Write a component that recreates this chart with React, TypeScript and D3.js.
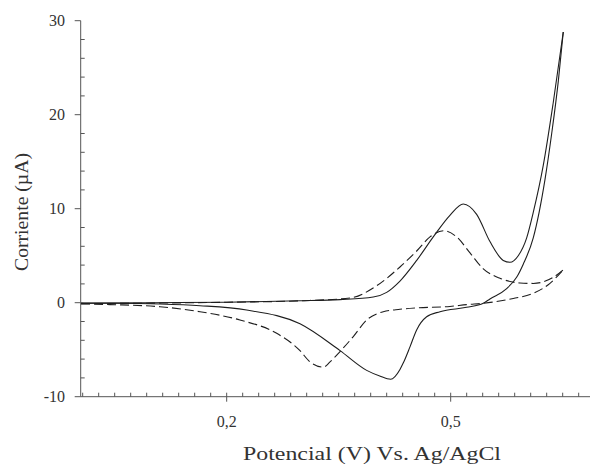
import React from 'react';
import * as d3 from 'd3';

// lecturas aproximadas de la figura: [potencial (V), corriente (µA)]
const solidForward: [number, number][] = [
  [0.005, -0.05], [0.1, 0.0], [0.2, 0.05], [0.2982, 0.2], [0.3518, 0.33],
  [0.3963, 0.6], [0.4143, 1.1], [0.4321, 2.3], [0.4545, 4.5], [0.4767, 7.0],
  [0.499, 9.3], [0.5169, 10.5], [0.5348, 9.4], [0.5526, 6.5], [0.5704, 4.5],
  [0.5794, 4.3], [0.5905, 5.0], [0.6018, 6.9], [0.6106, 9.6], [0.624, 14.6],
  [0.6374, 21.3], [0.6508, 28.8]
];
const solidReverse: [number, number][] = [
  [0.6508, 28.8], [0.6442, 23.6], [0.6353, 18.0], [0.6263, 13.1], [0.6106, 6.9],
  [0.5972, 4.1], [0.5883, 2.7], [0.575, 1.5], [0.5526, 0.4], [0.5437, -0.06],
  [0.5213, -0.49], [0.4857, -0.96], [0.4678, -1.5], [0.4544, -2.9], [0.4455, -4.7],
  [0.4366, -6.4], [0.4321, -7.1], [0.4196, -8.15], [0.405, -7.8], [0.3875, -7.2],
  [0.3518, -5.1], [0.2982, -2.25], [0.2268, -0.78], [0.1643, -0.32], [0.1107, -0.14],
  [0.0438, -0.06], [0.005, -0.05]
];
const dashedForward: [number, number][] = [
  [0.005, -0.1], [0.1, -0.05], [0.2, 0.05], [0.2982, 0.2], [0.3651, 0.5],
  [0.4009, 1.8], [0.4321, 3.8], [0.4545, 5.5], [0.4723, 7.0], [0.4901, 7.66],
  [0.508, 7.0], [0.5259, 5.3], [0.5437, 3.6], [0.566, 2.6], [0.5928, 2.1],
  [0.6106, 2.05], [0.6374, 2.7], [0.6508, 3.5]
];
const dashedReverse: [number, number][] = [
  [0.6508, 3.5], [0.633, 2.06], [0.6106, 1.0], [0.5838, 0.45], [0.5437, -0.06],
  [0.5214, -0.2], [0.499, -0.4], [0.4545, -0.55], [0.4321, -0.7], [0.4097, -0.96],
  [0.3875, -1.84], [0.3696, -3.6], [0.3518, -5.2], [0.3384, -6.3], [0.3294, -6.85],
  [0.3116, -6.3], [0.2982, -5.1], [0.267, -3.26], [0.2178, -1.84], [0.1643, -0.96],
  [0.1107, -0.43], [0.0438, -0.2], [0.005, -0.12]
];

const xMajorTicks = [0.2, 0.5];
const xTickLabels = ['0,2', '0,5'];
const yMajorTicks = [-10, 0, 10, 20, 30];

const font = '"Liberation Serif", "DejaVu Serif", serif';
const axisColor = '#555';
const inkColor = '#1e1e1e';

export default function App() {
  const x = d3.scaleLinear().domain([0.0045, 0.6866]).range([80.7, 590]);
  const y = d3.scaleLinear().domain([-10, 30]).range([396.7, 20.7]);

  const line = d3.line<[number, number]>()
    .x(d => x(d[0]))
    .y(d => y(d[1]))
    .curve(d3.curveMonotoneX);

  // cada rama se traza de izquierda a derecha
  const asc = (pts: [number, number][]) => [...pts].sort((a, b) => a[0] - b[0]);
  const solidPaths = [line(asc(solidForward)), line(asc(solidReverse))];
  const dashedPaths = [line(asc(dashedForward)), line(asc(dashedReverse))];

  // petites graduations
  const xStep = 0.3 / 14;
  const xMinor = d3.range(-9, 25)
    .map(k => 0.2 + k * xStep)
    .filter(v => v >= x.domain()[0] && v <= x.domain()[1]);
  const yMinor = d3.range(-10, 31, 2).filter(v => v % 10 !== 0);

  const [x0, x1] = x.range();
  const yBase = y(-10);

  return (
    <div style={{ position: 'fixed', left: 0, top: 0 }}>
      <svg width={590} height={465} style={{ display: 'block', background: '#fff' }}>
        {/* eje Y */}
        <line x1={x0} x2={x0} y1={y(30)} y2={yBase} stroke={axisColor} strokeWidth={1} />
        {yMajorTicks.map(t => (
          <g key={'ym' + t}>
            <line x1={x0 - 6} x2={x0} y1={y(t)} y2={y(t)} stroke={axisColor} />
            <text x={65} y={y(t)} dy="0.35em" textAnchor="end" fontFamily={font}
              fontSize={16} fill="#333">{t}</text>
          </g>
        ))}
        {yMinor.map(t => (
          <line key={'yn' + t} x1={x0} x2={x0 + 4} y1={y(t)} y2={y(t)} stroke={axisColor} />
        ))}

        {/* eje X */}
        <line x1={x0} x2={x1} y1={yBase} y2={yBase} stroke={axisColor} strokeWidth={1} />
        {xMinor.map((t, i) => (
          <line key={'xn' + i} x1={x(t)} x2={x(t)} y1={yBase - 4} y2={yBase} stroke={axisColor} />
        ))}
        {xMajorTicks.map((t, i) => (
          <g key={'xm' + t}>
            <line x1={x(t)} x2={x(t)} y1={yBase} y2={yBase + 5} stroke={axisColor} />
            <text x={x(t)} y={427} textAnchor="middle" fontFamily={font}
              fontSize={16} fill="#333">{xTickLabels[i]}</text>
          </g>
        ))}

        {/* curvas */}
        {dashedPaths.map((d, i) => (
          <path key={'d' + i} d={d || ''} fill="none" stroke={inkColor} strokeWidth={1.1}
            strokeDasharray="9,4" />
        ))}
        {solidPaths.map((d, i) => (
          <path key={'s' + i} d={d || ''} fill="none" stroke={inkColor} strokeWidth={1.1} />
        ))}

        {/* títulos */}
        <text x={372} y={460} textAnchor="middle" fontFamily={font} fontSize={19.5}
          fill="#333" textLength={258} lengthAdjust="spacingAndGlyphs">
          Potencial (V) Vs. Ag/AgCl
        </text>
        <text transform="translate(28,212) rotate(-90)" textAnchor="middle" fontFamily={font}
          fontSize={19} fill="#333" textLength={118} lengthAdjust="spacingAndGlyphs">
          Corriente (µA)
        </text>
      </svg>
    </div>
  );
}
